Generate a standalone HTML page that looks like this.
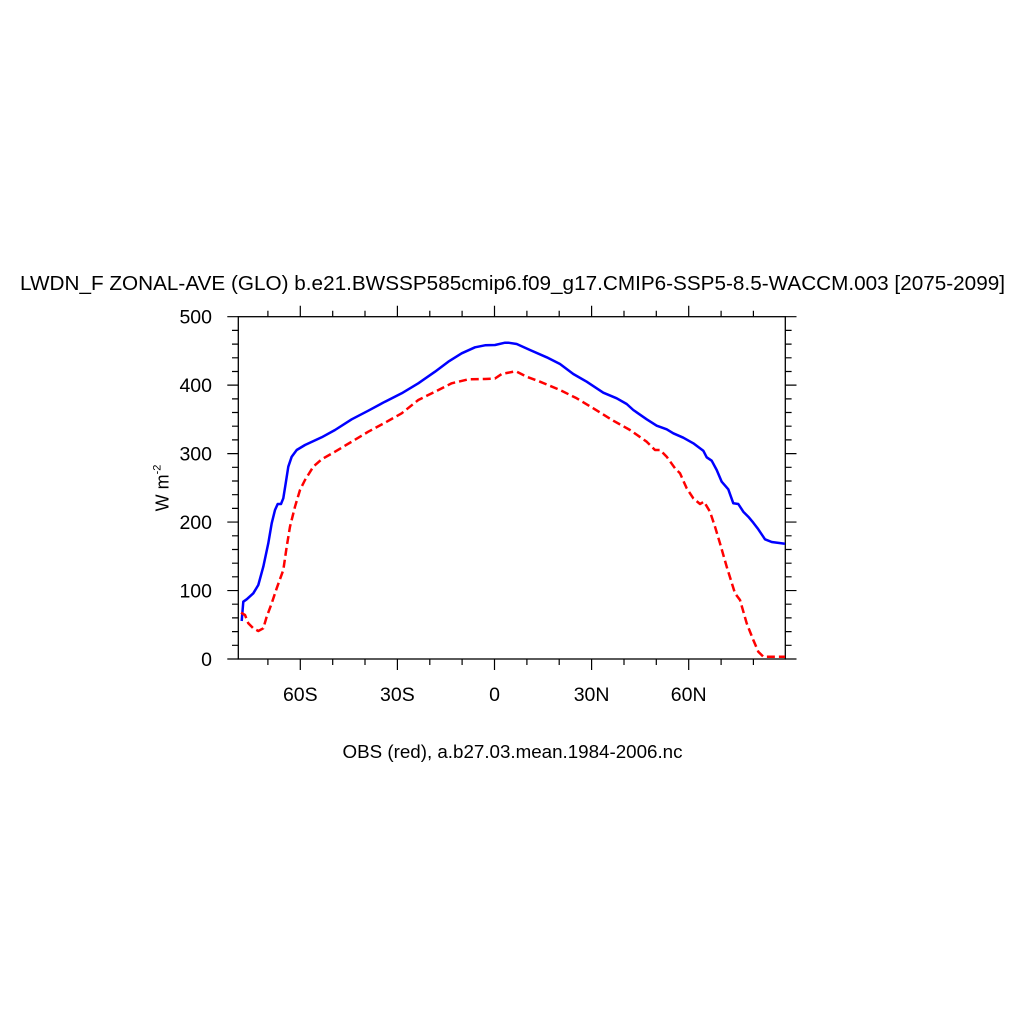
<!DOCTYPE html>
<html>
<head>
<meta charset="utf-8">
<style>
html,body{margin:0;padding:0;background:#fff;}
svg{display:block;}
text{font-family:"Liberation Sans",Arial,sans-serif;fill:#000;}
</style>
</head>
<body>
<svg width="1024" height="1024" viewBox="0 0 1024 1024" xmlns="http://www.w3.org/2000/svg">
<rect x="0" y="0" width="1024" height="1024" fill="#fff"/>
<!-- Title -->
<text x="512.5" y="290" font-size="20.5" text-anchor="middle" textLength="985" lengthAdjust="spacingAndGlyphs">LWDN_F ZONAL-AVE (GLO) b.e21.BWSSP585cmip6.f09_g17.CMIP6-SSP5-8.5-WACCM.003 [2075-2099]</text>
<!-- Subtitle -->
<text x="512.5" y="758" font-size="18.7" text-anchor="middle" textLength="340" lengthAdjust="spacingAndGlyphs">OBS (red), a.b27.03.mean.1984-2006.nc</text>

<!-- Frame -->
<rect x="238.3" y="316.7" width="547" height="342.3" fill="none" stroke="#000" stroke-width="1.3"/>

<g stroke="#000" stroke-width="1.2">
<!-- Y major ticks left/right -->
<path d="M227.3 659H238.3 M227.3 590.54H238.3 M227.3 522.08H238.3 M227.3 453.62H238.3 M227.3 385.16H238.3 M227.3 316.7H238.3"/>
<path d="M785.3 659H796.5 M785.3 590.54H796.5 M785.3 522.08H796.5 M785.3 453.62H796.5 M785.3 385.16H796.5 M785.3 316.7H796.5"/>
<!-- Y minor ticks -->
<path d="M232 645.3H238.3 M232 631.6H238.3 M232 617.9H238.3 M232 604.2H238.3
M232 576.8H238.3 M232 563.2H238.3 M232 549.5H238.3 M232 535.8H238.3
M232 508.4H238.3 M232 494.7H238.3 M232 481H238.3 M232 467.3H238.3
M232 439.9H238.3 M232 426.2H238.3 M232 412.5H238.3 M232 398.9H238.3
M232 371.5H238.3 M232 357.8H238.3 M232 344.1H238.3 M232 330.4H238.3"/>
<path d="M785.3 645.3H791.6 M785.3 631.6H791.6 M785.3 617.9H791.6 M785.3 604.2H791.6
M785.3 576.8H791.6 M785.3 563.2H791.6 M785.3 549.5H791.6 M785.3 535.8H791.6
M785.3 508.4H791.6 M785.3 494.7H791.6 M785.3 481H791.6 M785.3 467.3H791.6
M785.3 439.9H791.6 M785.3 426.2H791.6 M785.3 412.5H791.6 M785.3 398.9H791.6
M785.3 371.5H791.6 M785.3 357.8H791.6 M785.3 344.1H791.6 M785.3 330.4H791.6"/>
<!-- X major ticks bottom/top -->
<path d="M300.3 659V670 M397.4 659V670 M494.5 659V670 M591.6 659V670 M688.7 659V670"/>
<path d="M300.3 316.7V305.7 M397.4 316.7V305.7 M494.5 316.7V305.7 M591.6 316.7V305.7 M688.7 316.7V305.7"/>
<!-- X minor ticks -->
<path d="M267.9 659V665 M332.7 659V665 M365 659V665 M429.8 659V665 M462.1 659V665 M526.9 659V665 M559.2 659V665 M624 659V665 M656.3 659V665 M721.1 659V665 M753.4 659V665"/>
<path d="M267.9 316.7V310.7 M332.7 316.7V310.7 M365 316.7V310.7 M429.8 316.7V310.7 M462.1 316.7V310.7 M526.9 316.7V310.7 M559.2 316.7V310.7 M624 316.7V310.7 M656.3 316.7V310.7 M721.1 316.7V310.7 M753.4 316.7V310.7"/>
</g>

<!-- Y tick labels -->
<g font-size="19.5" text-anchor="end">
<text x="212" y="666">0</text>
<text x="212" y="597.5">100</text>
<text x="212" y="529">200</text>
<text x="212" y="460.6">300</text>
<text x="212" y="392.2">400</text>
<text x="212" y="323.7">500</text>
</g>
<!-- X tick labels -->
<g font-size="19.5" text-anchor="middle">
<text x="300.3" y="701">60S</text>
<text x="397.4" y="701">30S</text>
<text x="494.5" y="701">0</text>
<text x="591.6" y="701">30N</text>
<text x="688.7" y="701">60N</text>
</g>
<!-- Y axis label -->
<text transform="translate(168.5,488) rotate(-90)" font-size="18" text-anchor="middle">W m<tspan font-size="11" dy="-8">-2</tspan></text>

<!-- Blue model line -->
<polyline fill="none" stroke="#0000ff" stroke-width="2.5" stroke-linejoin="round" points="
241.7,621 243.3,601.7 246.7,599.3 253.3,593.3 258.3,585 263.3,566.7 268.3,543.3 271.7,523.3 275,510 277.7,504 281,504 283.3,498.3 285.7,483.3 288.3,466.7 291.7,456.7 296.7,450 305,445 321.7,437.3 335,430 351.7,419.3 368.3,410.7 385,401.7 401.7,393.3 418.3,383.3 435,371.7 448.3,361.7 461.7,353.3 475,347.3 485,345.3 495,345 505,342.7 508.3,342.7 516.7,344 530,350 546.7,357.3 560,364 573.3,374 586.7,381.7 603.3,392.7 616.7,398.3 626.7,404 633.3,410 646.7,419.3 656.7,425.7 666.7,429.3 673.3,433.3 683.3,437.7 693.3,443.3 703.3,450.7 706.7,457.3 711.7,460.7 716.7,470 721.7,481.7 728.3,489.3 733.3,503.3 738.3,504 743.3,511.7 748.3,516.7 753.3,522.7 758.3,529.3 765,539.3 771.7,542 785,543.7"/>

<!-- Red obs dashed line -->
<polyline fill="none" stroke="#ff0000" stroke-width="2.5" stroke-dasharray="8,4" stroke-linejoin="round" points="
241,612.7 245,615 248.3,623.3 253.3,628.3 258.3,631 263.3,628.3 266.7,616.7 271.7,603.3 276.7,588.3 283.3,570 286.7,546.7 290,526.7 295,506.7 300,490 305,480 313.3,466.7 321.7,459.3 335,451.7 351.7,441.7 368.3,431.7 385,422.7 401.7,413.3 418.3,400 435,391.7 451.7,383.3 468.3,379.3 485,379 495,378.5 501.7,374 513.3,371.7 516.7,371.7 526.7,376.7 540,381.7 560,390 576.7,398.3 593.3,408.3 613.3,420.7 630,430 646.7,441.7 655,450 660,450 666.7,456.7 675,468.3 680,473.3 686.7,488.3 693.3,498.3 700,504 704,501.7 710,511.7 715,526.7 720,543.3 726.7,566.7 735,593.3 740,600 746.7,623.3 753.3,640 758.3,651.7 763.3,656.7 785,656.7"/>
</svg>
</body>
</html>
